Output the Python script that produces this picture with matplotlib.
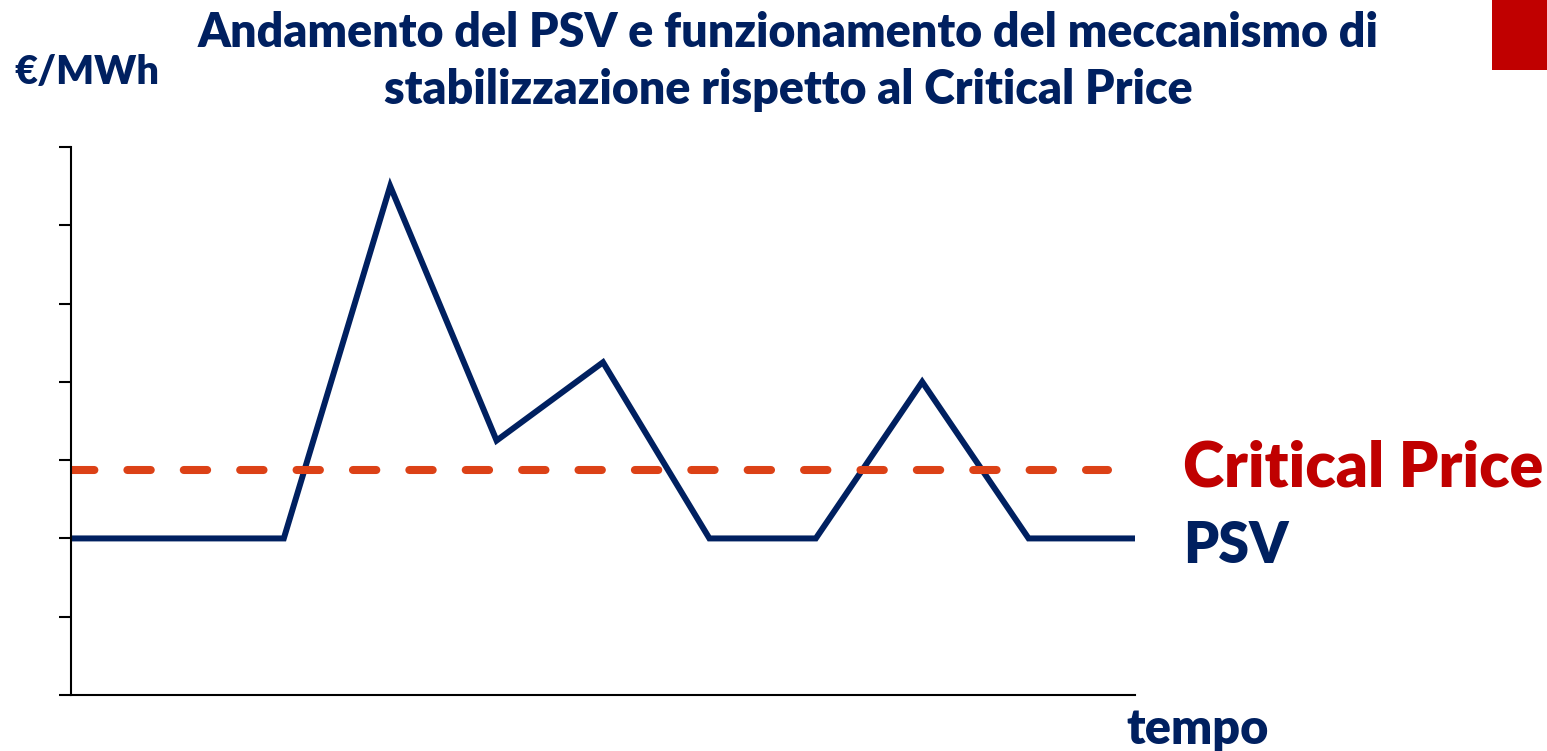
import matplotlib
matplotlib.use("Agg")
from matplotlib import pyplot as plt
from matplotlib.patches import Rectangle

# Data
psv_x = [0, 2, 3, 4, 5, 6, 7, 8, 9, 10]
psv_y = [2, 2, 6.5, 3.25, 4.25, 2, 2, 4, 2, 2]
critical_x = [0, 9.75]
critical_y = [2.875, 2.875]
y_ticks = [0, 1, 2, 3, 4, 5, 6, 7]

navy = "#002060"
red = "#C00000"
orange = "#DC4116"

plt.rcParams['font.family'] = ['Lato', 'DejaVu Sans']

fig = plt.figure(figsize=(15.47, 7.51), dpi=100)
ax = fig.add_axes([71 / 1547, 56 / 751, 1064 / 1547, 548 / 751])

ax.plot(psv_x, psv_y, color=navy, lw=4.3, solid_capstyle='butt', solid_joinstyle='miter')
ax.plot(critical_x, critical_y, color=orange, lw=5.8, dash_capstyle='round',
        linestyle=(0, (2.9, 4.1)))

ax.set_xlim(0, 10)
ax.set_ylim(0, 7)
ax.set_yticks(y_ticks)
ax.set_yticklabels([])
ax.set_xticks([])
ax.tick_params(axis='y', length=8.5, width=1.5, color='black')
for s in ['top', 'right']:
    ax.spines[s].set_visible(False)
for s in ['left', 'bottom']:
    ax.spines[s].set_linewidth(1.5)

wt = 'heavy'
# Title and labels
fig.text(788 / 1547, 1 - 33 / 751, "Andamento del PSV e funzionamento del meccanismo di",
         ha='center', va='center', color=navy, fontsize=33.5, fontweight=wt)
fig.text(788 / 1547, 1 - 90 / 751, "stabilizzazione rispetto al Critical Price",
         ha='center', va='center', color=navy, fontsize=33.5, fontweight=wt)
fig.text(14 / 1547, 1 - 72 / 751, "€/MWh", ha='left', va='center', color=navy,
         fontsize=28.5, fontweight=wt)
fig.text(1183 / 1547, 1 - 468 / 751, "Critical Price", ha='left', va='center', color=red,
         fontsize=45, fontweight=wt)
fig.text(1183 / 1547, 1 - 546 / 751, "PSV", ha='left', va='center', color=navy,
         fontsize=40, fontweight=wt)
fig.text(1198 / 1547, 1 - 730 / 751, "tempo", ha='center', va='center', color=navy,
         fontsize=35, fontweight=wt)

# Red corner block
fig.patches.append(Rectangle((1492 / 1547, 1 - 70 / 751), 55 / 1547, 70 / 751,
                             transform=fig.transFigure, color=red, lw=0))

fig.savefig("out.png", dpi=100)
